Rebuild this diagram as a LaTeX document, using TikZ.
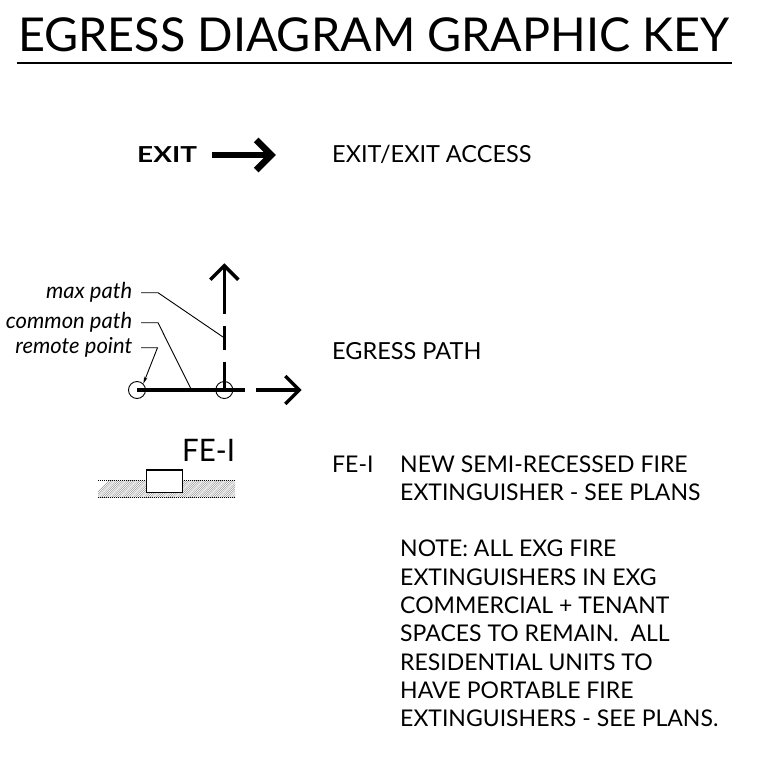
\documentclass[tikz,border=0pt]{standalone}
\usepackage{fontspec}
\setmainfont{Lato}
\usetikzlibrary{arrows.meta}
\begin{document}
\begin{tikzpicture}[x=1pt,y=-1pt,
  titletext/.style={anchor=base west,inner sep=0pt,font=\fontsize{46.7}{50}\selectfont},
  keytext/.style={anchor=base west,inner sep=0pt,font=\fontsize{23}{28.3}\selectfont},
  widetext/.style={anchor=base west,inner sep=0pt,font=\fontsize{23.5}{28.3}\selectfont},
  notetext/.style={anchor=north west,inner sep=0pt,font=\fontsize{23}{28.3}\selectfont,align=left},
  leadertext/.style={anchor=base east,inner sep=0pt,font=\fontsize{22}{24}\selectfont\itshape},
  leader/.style={line width=0.9pt,black},
  pathline/.style={line width=3.4pt,black},
  pointcircle/.style={circle,draw,line width=0.9pt,minimum size=17pt,inner sep=0pt}]
\useasboundingbox (0,0) rectangle (762,760);
\node[titletext] (title) at (18,51.7) {EGRESS DIAGRAM GRAPHIC KEY};
\coordinate (ruleL) at (16.5,63); \coordinate (ruleR) at (731.5,63);
\draw[line width=1.2pt] (ruleL) -- (ruleR);
% exit
\node[anchor=base west,inner sep=0pt,font=\fontsize{22}{24}\selectfont\bfseries] (exit) at (137,162.5) {\scalebox{1.27}[1]{EXIT}};
\coordinate (exitA) at (212,155); \coordinate (exitTip) at (271.2,155);
\coordinate (exitB1) at (256.2,140); \coordinate (exitB2) at (256.2,170);
\draw[line width=6.5pt] (exitA) -- (exitTip);
\draw[line width=6.5pt,miter limit=10] (exitB1) -- (exitTip) -- (exitB2);
\node[widetext] (exitlabel) at (332,162) {EXIT/EXIT ACCESS};
% egress path
\node[pointcircle] (remote) at (137,390) {};
\node[pointcircle] (junction) at (224.3,390) {};
\coordinate (h1) at (245,390); \coordinate (h2) at (256,390); \coordinate (hTip) at (299.3,390);
\coordinate (hB1) at (285.3,376); \coordinate (hB2) at (285.3,404);
\draw[pathline] (remote.center) -- (h1);
\draw[pathline] (h2) -- (hTip);
\draw[pathline,miter limit=10] (hB1) -- (hTip) -- (hB2);
\coordinate (v1) at (224.3,362); \coordinate (v2) at (224.3,350);
\coordinate (v3) at (224.3,326); \coordinate (v4) at (224.3,314);
\coordinate (vTip) at (224.3,265.7); \coordinate (vB1) at (210.3,279.7); \coordinate (vB2) at (238.3,279.7);
\draw[pathline] (junction.center) -- (v1);
\draw[pathline] (v2) -- (v3);
\draw[pathline] (v4) -- (vTip);
\draw[pathline,miter limit=10] (vB1) -- (vTip) -- (vB2);
\node[leadertext] (maxp) at (132.5,298) {max path};
\node[leadertext] (commonp) at (132.5,328) {common path};
\node[leadertext] (remotep) at (132.5,353) {remote point};
\coordinate (maxS) at (141,292.7); \coordinate (comS) at (141,322.7); \coordinate (remS) at (141,347.7);
\coordinate (maxEnd) at (223,337); \coordinate (comEnd) at (191,389);
\draw[leader] (maxS) -- ++(17,0) -- (maxEnd);
\draw[leader] (comS) -- ++(17,0) -- (comEnd);
\draw[leader,-{Stealth[length=7pt,width=3.5pt]}] (remS) -- ++(16.5,0) -- (remote.north east);
\node[widetext] (egresslabel) at (332,359) {EGRESS PATH};
% extinguisher
\node[anchor=base west,inner sep=0pt,font=\fontsize{31}{33}\selectfont] (fetag) at (182,461) {\scalebox{0.95}[1]{FE-I}};
\begin{scope}
\clip (98,480.5) rectangle (235,497);
\foreach \i in {0,2.2,...,170} \draw[line width=0.45pt,black!40] (90+\i,500) -- ++(25,-25);
\end{scope}
\draw[line width=1pt,densely dotted] (98,480.5) -- (235,480.5);
\draw[line width=1pt,densely dotted] (98,497) -- (235,497);
\node[draw,fill=white,line width=1.1pt,minimum width=36pt,minimum height=22.7pt,inner sep=0pt] (box) at (164.7,481.3) {};
\node[keytext] (fekey) at (332,472) {FE-I};
\node[keytext] (fetext) at (400,472) {NEW SEMI-RECESSED FIRE};
\node[keytext] (fetext2) at (400,500) {EXTINGUISHER - SEE PLANS};
\node[notetext] (note) at (400,540) {NOTE: ALL EXG FIRE\\EXTINGUISHERS IN EXG\\COMMERCIAL + TENANT\\SPACES TO REMAIN.\ \ ALL\\RESIDENTIAL UNITS TO\\HAVE PORTABLE FIRE\\EXTINGUISHERS - SEE PLANS.};
\end{tikzpicture}
\end{document}
